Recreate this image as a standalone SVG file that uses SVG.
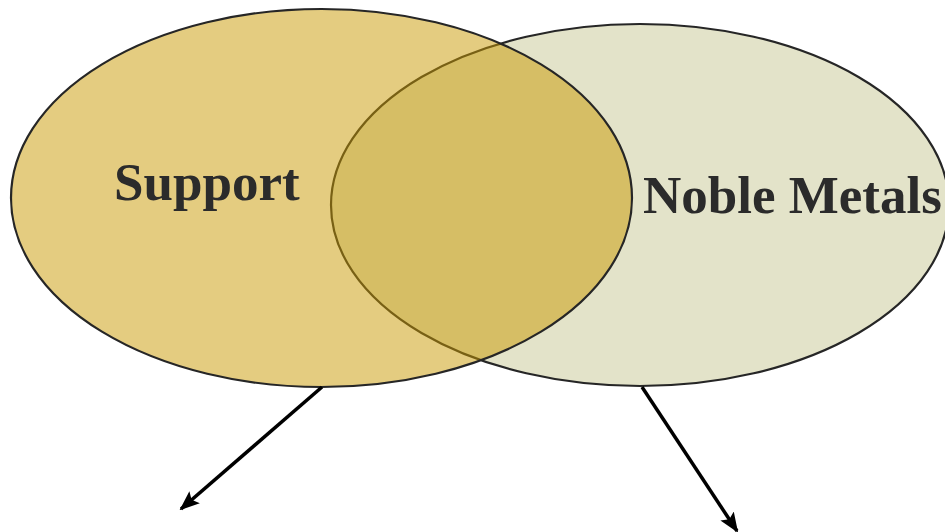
<svg xmlns="http://www.w3.org/2000/svg" width="945" height="532" viewBox="0 0 945 532">
  <defs>
    <style>
      .ell { stroke: #262626; stroke-width: 2.2; }
      .lbl { font-family: "Liberation Serif", "Times New Roman", serif; font-weight: bold; font-size: 53px; fill: #2b2b2b; }
      .conn { stroke: #000; stroke-width: 3.5; fill: none; }
    </style>
    <marker id="arrow" markerUnits="userSpaceOnUse" markerWidth="20" markerHeight="16" viewBox="0 0 20 16" refX="18" refY="8" orient="auto">
      <path d="M0,0 L20,8 L0,16 L4,8 Z" fill="#000"/>
    </marker>
  </defs>
  <rect width="945" height="532" fill="#ffffff"/>
  <g id="noble-metals">
    <ellipse class="ell" cx="640" cy="205" rx="309" ry="181" fill="#e3e3c9"/>
  </g>
  <g id="support">
    <ellipse class="ell" cx="321.5" cy="198" rx="310.5" ry="189" fill="#c99901" fill-opacity="0.5"/>
  </g>
  <text class="lbl" x="114" y="200">Support</text>
  <text class="lbl" x="643" y="213">Noble Metals</text>
  <g id="connectors">
    <line class="conn" x1="322" y1="387" x2="181" y2="509" marker-end="url(#arrow)"/>
    <line class="conn" x1="642" y1="387" x2="737" y2="531" marker-end="url(#arrow)"/>
  </g>
</svg>
